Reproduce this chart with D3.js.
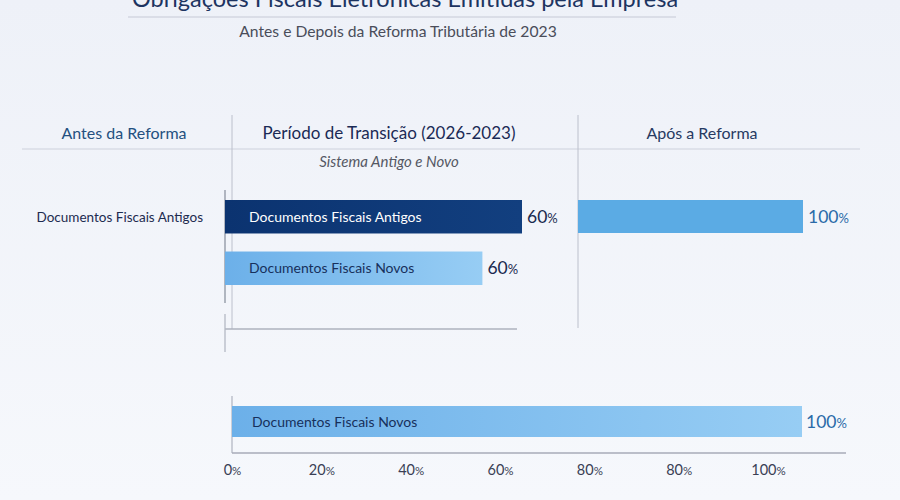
<!DOCTYPE html>
<html>
<head>
<meta charset="utf-8">
<script src="https://cdn.jsdelivr.net/npm/d3@7"></script>
<style>
  body { margin: 0; background: #f4f6fb; }
  svg { display: block; font-family: Lato, "Noto Sans", sans-serif; }
</style>
</head>
<body>
<div id="chart"></div>
<script>
// 1: DATA
const titulo = "Obrigações Fiscais Eletrônicas Emitidas pela Empresa";
const subtitulo = "Antes e Depois da Reforma Tributária de 2023";
const periodos = ["Antes da Reforma", "Período de Transição (2026-2023)", "Após a Reforma"];
const notaTransicao = "Sistema Antigo e Novo";
const rotuloLinha = "Documentos Fiscais Antigos";

const transicaoSeries = ["Documentos Fiscais Antigos", "Documentos Fiscais Novos"];
const transicaoValores = [60, 52];          // bar length as drawn
const transicaoRotulos = ["60", "60"];      // printed value

const aposValores = [100];
const aposRotulos = ["100"];

const novosSerie = ["Documentos Fiscais Novos"];
const novosValores = [100];
const novosRotulos = ["100"];

const eixoTicks = ["0%", "20%", "40%", "60%", "80%", "80%", "100%"];

// 2: SVG
const width = 900, height = 500;
const svg = d3.select("#chart").append("svg")
    .attr("width", width)
    .attr("height", height);

const defs = svg.append("defs");
const bg = defs.append("linearGradient").attr("id", "bg").attr("x1", 0).attr("y1", 0).attr("x2", 0).attr("y2", 1);
bg.append("stop").attr("offset", "0%").attr("stop-color", "#eef1f8");
bg.append("stop").attr("offset", "100%").attr("stop-color", "#f6f8fc");

const gLight = defs.append("linearGradient").attr("id", "gLight");
gLight.append("stop").attr("offset", "0%").attr("stop-color", "#6cb0e9");
gLight.append("stop").attr("offset", "100%").attr("stop-color", "#97cdf4");

const gDark = defs.append("linearGradient").attr("id", "gDark");
gDark.append("stop").attr("offset", "0%").attr("stop-color", "#0b3370");
gDark.append("stop").attr("offset", "100%").attr("stop-color", "#123f7f");

svg.append("rect").attr("width", width).attr("height", height).attr("fill", "url(#bg)");

// 3: TITLES
svg.append("text")
    .attr("x", 405).attr("y", 7)
    .attr("text-anchor", "middle")
    .attr("font-size", 23.5)
    .attr("fill", "#1d3461")
    .text(titulo);

svg.append("line")
    .attr("x1", 128).attr("x2", 676).attr("y1", 17).attr("y2", 17)
    .attr("stroke", "#c6cad6").attr("stroke-width", 1.2);

svg.append("text")
    .attr("x", 398).attr("y", 37)
    .attr("text-anchor", "middle")
    .attr("font-size", 15.7)
    .attr("fill", "#4a4d5a")
    .text(subtitulo);

// 4: HEADER ROW
const headerX = [124, 389, 702];
const headerColor = ["#24507f", "#1a2a55", "#273a62"];
svg.selectAll(".header")
    .data(periodos)
    .enter()
    .append("text")
    .attr("class", "header")
    .attr("x", (d, i) => headerX[i])
    .attr("y", 139)
    .attr("text-anchor", "middle")
    .attr("font-size", (d, i) => i === 1 ? 17 : 16)
    .attr("fill", (d, i) => headerColor[i])
    .text(d => d);

svg.append("line")
    .attr("x1", 22).attr("x2", 860).attr("y1", 149).attr("y2", 149)
    .attr("stroke", "#cdd1dc").attr("stroke-width", 1);

svg.append("text")
    .attr("x", 389).attr("y", 167)
    .attr("text-anchor", "middle")
    .attr("font-size", 15)
    .attr("font-style", "italic")
    .attr("fill", "#555864")
    .text(notaTransicao);

// divider lines
const divColor = "#bcc0cc";
svg.append("line").attr("x1", 232).attr("x2", 232).attr("y1", 115).attr("y2", 329).attr("stroke", divColor);
svg.append("line").attr("x1", 578).attr("x2", 578).attr("y1", 115).attr("y2", 328).attr("stroke", divColor);
svg.append("line").attr("x1", 225).attr("x2", 517).attr("y1", 329).attr("y2", 329).attr("stroke", "#aeb2be").attr("stroke-width", 1.3);
svg.append("line").attr("x1", 225).attr("x2", 225).attr("y1", 190).attr("y2", 303).attr("stroke", "#9aa0ad").attr("stroke-width", 1.5);
svg.append("line").attr("x1", 225).attr("x2", 225).attr("y1", 314).attr("y2", 352).attr("stroke", "#b4b8c4").attr("stroke-width", 1.3);

// row label on the left
svg.append("text")
    .attr("x", 203).attr("y", 222)
    .attr("text-anchor", "end")
    .attr("font-size", 13.5)
    .attr("fill", "#1d2b50")
    .text(rotuloLinha);

// helper: value label with a smaller % sign
function valueLabel(sel, color) {
    sel.attr("font-size", 17.5).attr("fill", color)
        .each(function(d) {
            const t = d3.select(this);
            t.append("tspan").text(d);
            t.append("tspan").attr("font-size", 13).text("%");
        });
}

// 5: TRANSITION PANEL
const xT = d3.scaleLinear().domain([0, 100]).range([225, 720]);
const yT = d3.scaleBand().domain(transicaoSeries).range([200, 285]).paddingInner(0.35);

svg.selectAll(".barT")
    .data(transicaoSeries)
    .enter()
    .append("rect")
    .attr("class", "barT")
    .attr("x", xT(0))
    .attr("y", d => yT(d))
    .attr("width", (d, i) => xT(transicaoValores[i]) - xT(0))
    .attr("height", yT.bandwidth())
    .attr("fill", (d, i) => i === 0 ? "url(#gDark)" : "url(#gLight)");

svg.selectAll(".barTLabel")
    .data(transicaoSeries)
    .enter()
    .append("text")
    .attr("class", "barTLabel")
    .attr("x", xT(0) + 24)
    .attr("y", d => yT(d) + yT.bandwidth() / 2 + 5)
    .attr("font-size", 14)
    .attr("fill", (d, i) => i === 0 ? "#ffffff" : "#17305c")
    .text(d => d);

svg.selectAll(".valT")
    .data(transicaoRotulos)
    .enter()
    .append("text")
    .attr("class", "valT")
    .attr("x", (d, i) => xT(transicaoValores[i]) + 5)
    .attr("y", (d, i) => yT(transicaoSeries[i]) + yT.bandwidth() / 2 + 6)
    .call(valueLabel, "#1a2a4f");

// 6: AFTER PANEL
const xA = d3.scaleLinear().domain([0, 100]).range([578, 803]);
const yA = d3.scaleBand().domain(["Após"]).range([200, 233]);

svg.selectAll(".barA")
    .data(aposValores)
    .enter()
    .append("rect")
    .attr("class", "barA")
    .attr("x", xA(0))
    .attr("y", yA("Após"))
    .attr("width", d => xA(d) - xA(0))
    .attr("height", yA.bandwidth())
    .attr("fill", "#5babe4");

svg.selectAll(".valA")
    .data(aposRotulos)
    .enter()
    .append("text")
    .attr("class", "valA")
    .attr("x", (d, i) => xA(aposValores[i]) + 5)
    .attr("y", yA("Após") + yA.bandwidth() / 2 + 6)
    .call(valueLabel, "#2a6aa8");

// 7: BOTTOM BAR + AXIS
const xB = d3.scaleLinear().domain([0, 100]).range([232, 802]);
const yB = d3.scaleBand().domain(novosSerie).range([406, 437]);

svg.append("line").attr("x1", 232).attr("x2", 232).attr("y1", 396).attr("y2", 453).attr("stroke", "#b4b8c4").attr("stroke-width", 1.3);

svg.selectAll(".barB")
    .data(novosSerie)
    .enter()
    .append("rect")
    .attr("class", "barB")
    .attr("x", xB(0))
    .attr("y", d => yB(d))
    .attr("width", (d, i) => xB(novosValores[i]) - xB(0))
    .attr("height", yB.bandwidth())
    .attr("fill", "url(#gLight)");

svg.selectAll(".barBLabel")
    .data(novosSerie)
    .enter()
    .append("text")
    .attr("class", "barBLabel")
    .attr("x", xB(0) + 20)
    .attr("y", d => yB(d) + yB.bandwidth() / 2 + 5)
    .attr("font-size", 14)
    .attr("fill", "#17305c")
    .text(d => d);

svg.selectAll(".valB")
    .data(novosRotulos)
    .enter()
    .append("text")
    .attr("class", "valB")
    .attr("x", (d, i) => xB(novosValores[i]) + 4)
    .attr("y", (d, i) => yB(novosSerie[i]) + yB.bandwidth() / 2 + 6)
    .call(valueLabel, "#2a6aa8");

svg.append("line")
    .attr("x1", 232).attr("x2", 846).attr("y1", 453).attr("y2", 453)
    .attr("stroke", "#a7abb8").attr("stroke-width", 1.5);

const xTicks = d3.scalePoint().domain(d3.range(eixoTicks.length)).range([232, 768]);
const axis = svg.append("g")
    .attr("transform", "translate(0,462)")
    .call(d3.axisBottom(xTicks).tickSize(0).tickFormat(i => eixoTicks[i]));
axis.select(".domain").remove();
axis.selectAll("text")
    .attr("font-family", "Lato, 'Noto Sans', sans-serif")
    .attr("font-size", 14.5)
    .attr("fill", "#3a3f55")
    .each(function(d) {
        const t = d3.select(this);
        const s = eixoTicks[d];
        t.text(null);
        t.append("tspan").text(s.replace("%", ""));
        t.append("tspan").attr("font-size", 11.5).text("%");
    });
</script>
</body>
</html>
